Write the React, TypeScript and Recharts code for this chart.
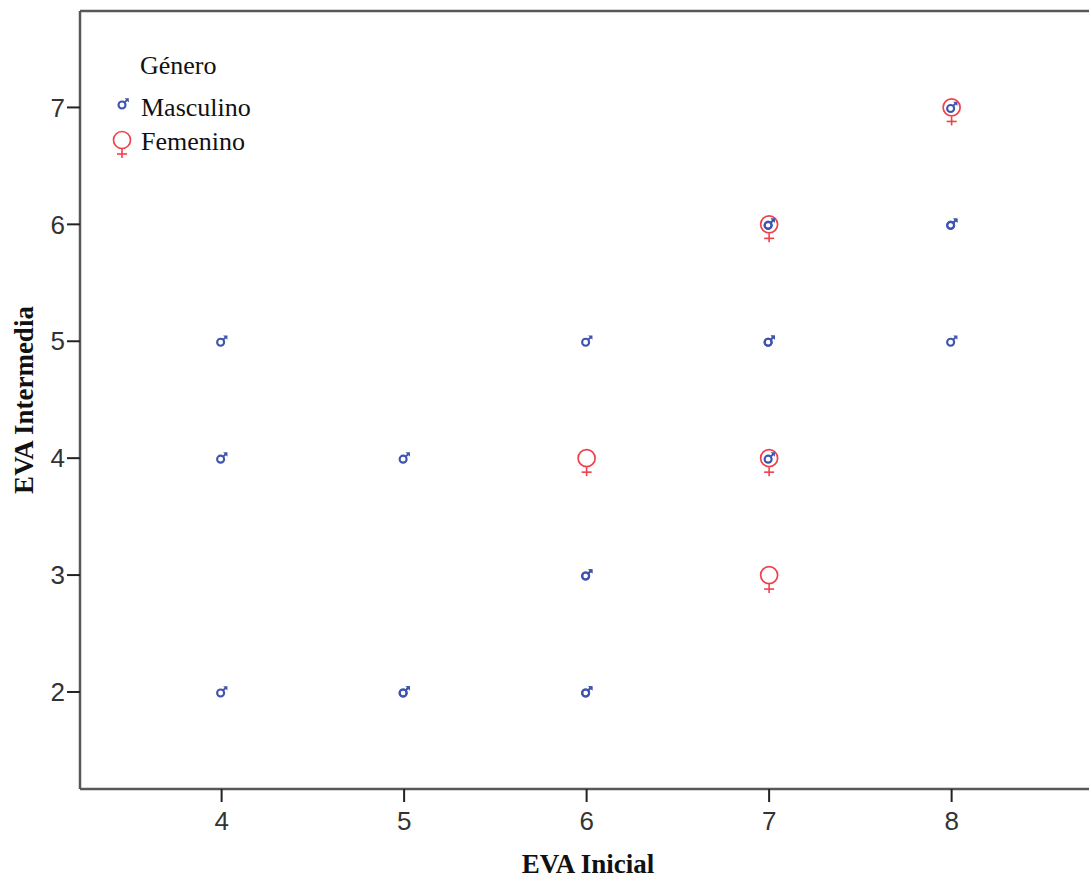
import React from "react";
import {
  ScatterChart,
  Scatter,
  XAxis,
  YAxis,
  ReferenceLine,
  Label,
} from "recharts";

// ---- Data ----
const xTicks = [4, 5, 6, 7, 8];
const yTicks = [2, 3, 4, 5, 6, 7];

// Masculino (EVA Inicial, EVA Intermedia) – repeated pairs are overlapping cases
const masculinoInicial = [4, 4, 4, 5, 5, 5, 6, 6, 6, 6, 6, 7, 7, 7, 7, 7, 8, 8, 8, 8];
const masculinoIntermedia = [5, 4, 2, 4, 2, 2, 5, 3, 3, 2, 2, 6, 6, 5, 5, 4, 7, 6, 6, 5];

// Femenino
const femeninoInicial = [8, 7, 6, 7, 7];
const femeninoIntermedia = [7, 6, 4, 4, 3];

const legendTitle = "Género";
const seriesNames = ["Masculino", "Femenino"];

const masculino = masculinoInicial.map((x, i) => ({ x, y: masculinoIntermedia[i] }));
const femenino = femeninoInicial.map((x, i) => ({ x, y: femeninoIntermedia[i] }));

const BLUE = "#3f54ae";
const RED = "#f0414b";
const AXIS = "#585858";

const X_DOMAIN: [number, number] = [3.224, 8.813];
const Y_DOMAIN: [number, number] = [1.17, 7.825];

const MaleGlyph = ({ cx, cy }: { cx: number; cy: number }) => (
  <g>
    <circle cx={cx - 1} cy={cy + 1} r={3.5} fill="none" stroke={BLUE} strokeWidth={2.1} />
    <line x1={cx + 1.3} y1={cy - 1.3} x2={cx + 4.2} y2={cy - 4.2} stroke={BLUE} strokeWidth={1.9} />
    <path d={`M${cx + 1.5} ${cy - 5.8} L${cx + 5.8} ${cy - 5.8} L${cx + 5.8} ${cy - 1.5} Z`} fill={BLUE} />
  </g>
);

const FemaleGlyph = ({ cx, cy }: { cx: number; cy: number }) => (
  <g>
    <circle cx={cx} cy={cy} r={8.5} fill="none" stroke={RED} strokeWidth={1.7} />
    <line x1={cx} y1={cy + 9} x2={cx} y2={cy + 18} stroke={RED} strokeWidth={1.6} />
    <line x1={cx - 5} y1={cy + 14} x2={cx + 5} y2={cy + 14} stroke={RED} strokeWidth={1.6} />
  </g>
);

const renderMale = (p: any) => <MaleGlyph cx={p.cx} cy={p.cy} />;
const renderFemale = (p: any) => <FemaleGlyph cx={p.cx} cy={p.cy} />;

const serif = "'Liberation Serif', 'Times New Roman', serif";

const LegendBox = () => (
  <svg width={200} height={130} style={{ display: "block" }}>
    <text x={40} y={34} fontFamily={serif} fontSize={26} fill="#111">
      {legendTitle}
    </text>
    <MaleGlyph cx={23} cy={64} />
    <text x={41} y={76} fontFamily={serif} fontSize={26} fill="#111">
      {seriesNames[0]}
    </text>
    <FemaleGlyph cx={22} cy={100} />
    <text x={41} y={110} fontFamily={serif} fontSize={26} fill="#111">
      {seriesNames[1]}
    </text>
  </svg>
);

const tickStyle = { fontFamily: "'Liberation Sans', Arial, sans-serif", fontSize: 26, fill: "#333" };

export default function App() {
  return (
    <div style={{ position: "relative", width: 1089, height: 882, overflow: "hidden", background: "#fff" }}>
      <style>{`body{margin:0;}`}</style>
      <ScatterChart width={1100} height={882} margin={{ top: 11, right: 0, bottom: 0, left: 0 }}>
        <XAxis
          type="number"
          dataKey="x"
          domain={X_DOMAIN}
          ticks={xTicks}
          allowDataOverflow
          height={93}
          tickSize={13}
          tickMargin={10}
          axisLine={{ stroke: AXIS, strokeWidth: 2.5 }}
          tickLine={{ stroke: "#222", strokeWidth: 2 }}
          tick={tickStyle}
        >
          <Label
            content={() => (
              <text
                x={588}
                y={873}
                textAnchor="middle"
                fontFamily={serif}
                fontWeight="bold"
                fontSize={27}
                fill="#111"
              >
                EVA Inicial
              </text>
            )}
          />
        </XAxis>
        <YAxis
          type="number"
          dataKey="y"
          domain={Y_DOMAIN}
          ticks={yTicks}
          allowDataOverflow
          width={80}
          tickSize={13}
          tickMargin={2}
          axisLine={{ stroke: AXIS, strokeWidth: 2.5 }}
          tickLine={{ stroke: "#222", strokeWidth: 2 }}
          tick={tickStyle}
        >
          <Label
            content={() => (
              <text
                x={33}
                y={400}
                transform="rotate(-90, 33, 400)"
                textAnchor="middle"
                fontFamily={serif}
                fontWeight="bold"
                fontSize={27}
                fill="#111"
              >
                EVA Intermedia
              </text>
            )}
          />
        </YAxis>
        <ReferenceLine y={Y_DOMAIN[1]} stroke={AXIS} strokeWidth={2.5} ifOverflow="visible" />
        <Scatter name="Femenino" data={femenino} shape={renderFemale} isAnimationActive={false} />
        <Scatter name="Masculino" data={masculino} shape={renderMale} isAnimationActive={false} />
      </ScatterChart>
      <div style={{ position: "absolute", left: 100, top: 40 }}>
        <LegendBox />
      </div>
    </div>
  );
}
